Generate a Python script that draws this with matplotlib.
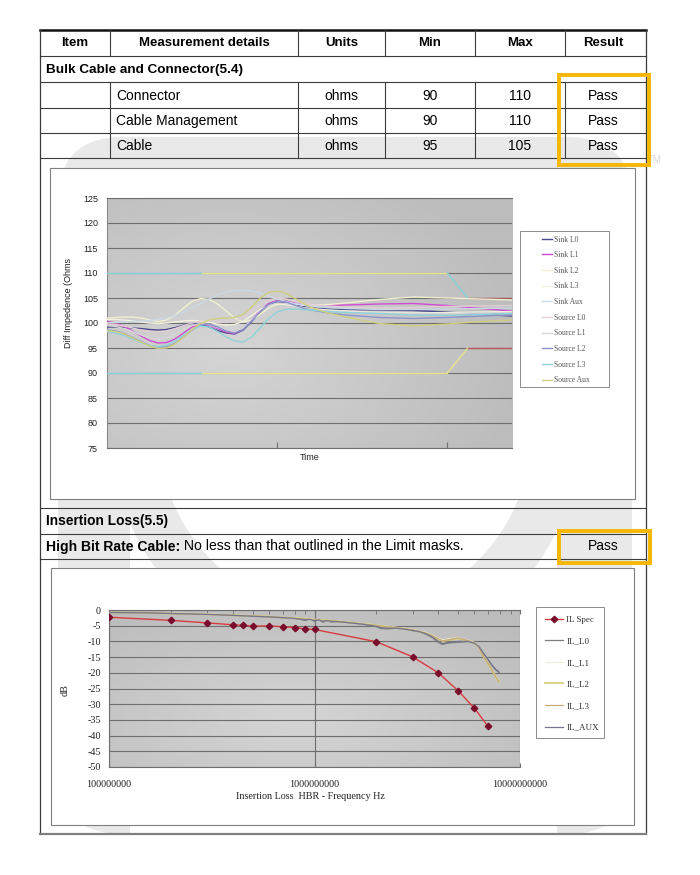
"""Cable test report page: impedance table + two Excel-style charts."""

import numpy as np
import matplotlib
matplotlib.use("Agg")
import matplotlib.pyplot as plt
from matplotlib.patches import Rectangle, FancyBboxPatch, Wedge

plt.rcParams['font.family'] = ['Liberation Sans', 'DejaVu Sans']
plt.rcParams['axes.unicode_minus'] = False
SERIF = ['Liberation Serif', 'DejaVu Serif']

W, H = 700, 875

# ---------------- table content ----------------
header = ['Item', 'Measurement details', 'Units', 'Min', 'Max', 'Result']
details = ['Connector', 'Cable Management', 'Cable']
units = ['ohms', 'ohms', 'ohms']
mins = ['90', '90', '95']
maxs = ['110', '110', '105']
results = ['Pass', 'Pass', 'Pass']

# ---------------- impedance chart data ----------------
time = [0.00, 0.05, 0.10, 0.15, 0.20, 0.25, 0.30, 0.35, 0.40, 0.45, 0.50,
        0.55, 0.60, 0.65, 0.70, 0.75, 0.80, 0.85, 0.90, 0.95, 1.00, 1.05,
        1.10, 1.15, 1.20, 1.30, 1.40, 1.60, 1.80, 2.00, 2.20, 2.38]
sink_l0 = [99.2, 99.2, 99.1, 99.0, 98.9, 98.7, 98.6, 98.7, 99.1, 99.6, 99.9,
           99.7, 99.2, 98.5, 98.0, 97.8, 98.6, 100.3, 102.2, 103.6, 104.2, 104.1,
           103.7, 103.3, 103.0, 102.8, 102.7, 102.6, 102.5, 102.2, 101.7, 101.4]
sink_l1 = [100.3, 100.0, 99.3, 98.4, 97.4, 96.5, 96.0, 96.1, 96.8, 98.0, 99.2,
           99.8, 99.6, 98.9, 98.2, 97.9, 98.8, 100.6, 102.5, 103.9, 104.5, 104.4,
           104.0, 103.6, 103.4, 103.5, 103.6, 103.8, 103.9, 103.5, 102.9, 102.4]
sink_l2 = [101.0, 101.1, 101.2, 101.2, 101.0, 100.6, 100.3, 100.6, 101.6, 103.0, 104.3,
           104.9, 104.7, 103.8, 102.4, 101.0, 100.2, 100.6, 101.8, 103.0, 103.7, 103.9,
           103.8, 103.6, 103.5, 103.7, 104.0, 104.7, 105.2, 105.0, 104.8, 104.6]
sink_l3 = [100.7, 100.7, 100.6, 100.4, 100.2, 100.0, 99.9, 100.0, 100.2, 100.4, 100.5,
           100.4, 100.1, 99.8, 99.6, 99.7, 100.3, 101.5, 102.7, 103.5, 103.8, 103.7,
           103.4, 103.1, 102.9, 102.6, 102.4, 102.1, 102.0, 102.1, 102.2, 102.3]
sink_aux = [100.0, 100.1, 100.2, 100.3, 100.4, 100.5, 100.7, 101.0, 101.5, 102.2, 103.0,
            103.9, 104.8, 105.6, 106.2, 106.5, 106.6, 106.4, 106.0, 105.4, 104.8, 104.3,
            103.9, 103.6, 103.4, 103.1, 102.9, 102.7, 102.7, 102.8, 102.9, 103.0]
source_l0 = [99.8, 99.7, 99.4, 99.0, 98.6, 98.3, 98.2, 98.4, 98.9, 99.5, 100.0,
             100.4, 100.5, 100.3, 100.1, 100.3, 101.1, 102.4, 103.7, 104.6, 105.0, 104.8,
             104.4, 104.0, 103.7, 103.4, 103.2, 103.0, 103.1, 103.3, 103.4, 103.5]
source_l1 = [99.5, 99.3, 98.9, 98.3, 97.6, 97.0, 96.8, 97.0, 97.7, 98.7, 99.5,
             99.9, 99.7, 99.1, 98.5, 98.3, 99.0, 100.6, 102.3, 103.5, 104.0, 103.9,
             103.5, 103.1, 102.8, 102.4, 102.2, 102.0, 101.9, 101.9, 102.0, 102.1]
source_l2 = [98.6, 98.4, 97.9, 97.1, 96.3, 95.5, 95.1, 95.2, 95.9, 97.2, 98.6,
             99.6, 99.8, 99.2, 98.4, 98.0, 98.7, 100.4, 102.3, 103.7, 104.4, 104.2,
             103.6, 103.0, 102.6, 102.0, 101.6, 101.1, 100.9, 101.1, 101.4, 101.6]
source_l3 = [98.3, 98.0, 97.5, 96.8, 96.1, 95.5, 95.3, 95.6, 96.4, 97.6, 98.7,
             99.4, 99.2, 98.3, 97.2, 96.4, 96.2, 97.2, 99.0, 100.9, 102.2, 102.7,
             102.8, 102.7, 102.6, 102.3, 102.1, 101.9, 101.6, 101.5, 101.7, 101.9]
source_aux = [98.5, 98.3, 97.8, 97.0, 96.2, 95.4, 94.9, 95.0, 95.8, 97.2, 98.7,
              99.9, 100.6, 100.9, 101.0, 101.1, 101.7, 103.2, 105.0, 106.1, 106.4, 106.0,
              105.0, 104.0, 103.1, 102.0, 101.2, 99.9, 99.4, 99.8, 100.3, 100.6]

imp_labels = ['Sink L0', 'Sink L1', 'Sink L2', 'Sink L3', 'Sink Aux',
              'Source L0', 'Source L1', 'Source L2', 'Source L3', 'Source Aux']
imp_series = [sink_l0, sink_l1, sink_l2, sink_l3, sink_aux,
              source_l0, source_l1, source_l2, source_l3, source_aux]
imp_colors = ['#4A4A8E', '#D24CD2', '#F1EFCF', '#F3F2DE', '#C9D9E6',
              '#E2CFD6', '#D6D6D6', '#8C93CC', '#8ED2DA', '#CFCF7E']

# limit mask (upper / lower)
mask_time = [0.0, 0.56, 2.0, 2.12, 2.38]
mask_upper = [110, 110, 110, 105, 105]
mask_lower = [90, 90, 90, 95, 95]
upper_seg_colors = ['#84D3DB', '#E6E48E', '#84D3DB', '#A45A5A']
lower_seg_colors = ['#84D3DB', '#E6E48E', '#E6E48E', '#B45C5C']

# ---------------- insertion loss data ----------------
spec_freq = [1e8, 2e8, 3e8, 4e8, 4.5e8, 5e8, 6e8, 7e8, 8e8, 9e8, 1e9,
             2e9, 3e9, 4e9, 5e9, 6e9, 7e9]
spec_db = [-2.3, -3.3, -4.1, -4.7, -4.9, -5.1, -5.1, -5.3, -5.6, -6.0, -6.2,
           -10.1, -14.9, -20.0, -25.7, -31.3, -37.1]

il_freq = [1e8, 1.5e8, 2e8, 3e8, 4e8, 5e8, 6e8, 7e8, 8e8, 9e8, 9.5e8, 1e9,
           1.05e9, 1.1e9, 1.15e9, 1.2e9, 1.3e9, 1.5e9, 1.75e9, 2e9, 2.1e9,
           2.25e9, 2.5e9, 2.75e9, 3e9, 3.25e9, 3.5e9, 3.75e9, 4e9, 4.2e9,
           4.4e9, 4.7e9, 5e9, 5.3e9, 5.6e9, 6e9, 6.3e9, 6.6e9, 7e9, 7.3e9,
           7.6e9, 7.9e9]
il_l0 = [-0.8, -0.9, -1.1, -1.4, -1.7, -1.9, -2.2, -2.5, -2.6, -3.3, -2.8, -3.6,
         -3.0, -3.9, -3.2, -3.8, -3.7, -4.1, -4.6, -5.3, -5.9,
         -6.0, -5.8, -6.0, -6.6, -7.0, -7.8, -8.8, -10.3, -11.0,
         -10.6, -10.4, -10.3, -10.2, -10.0, -10.5, -11.5, -13.5, -15.8, -17.5,
         -18.8, -19.7]
il_l1 = [-0.8, -0.9, -1.0, -1.3, -1.6, -1.9, -2.1, -2.3, -2.6, -2.8, -2.9, -3.0,
         -3.1, -3.2, -3.3, -3.4, -3.5, -3.9, -4.4, -4.8, -5.0,
         -5.2, -5.5, -5.8, -6.2, -6.7, -7.2, -8.0, -9.0, -9.5,
         -9.3, -9.0, -8.8, -9.2, -9.7, -10.3, -11.6, -14.2, -16.8, -18.8,
         -20.8, -22.5]
il_l2 = [-0.8, -0.9, -1.1, -1.4, -1.7, -1.9, -2.1, -2.4, -2.6, -2.8, -3.0, -3.1,
         -3.2, -3.3, -3.3, -3.4, -3.6, -4.0, -4.5, -4.9, -5.1,
         -5.3, -5.7, -6.0, -6.4, -6.9, -7.5, -8.3, -9.3, -9.9,
         -9.7, -9.4, -9.1, -9.5, -9.9, -10.5, -11.9, -14.6, -17.2, -19.2,
         -21.2, -22.9]
il_l3 = [-0.8, -0.9, -1.1, -1.4, -1.7, -1.9, -2.1, -2.4, -2.7, -2.9, -3.0, -3.1,
         -3.2, -3.3, -3.4, -3.5, -3.6, -4.0, -4.5, -4.9, -5.1,
         -5.3, -5.6, -5.9, -6.3, -6.8, -7.4, -8.2, -9.2, -9.8,
         -9.6, -9.2, -8.9, -9.3, -9.8, -10.4, -11.8, -14.5, -17.0, -19.0,
         -21.0, -22.8]
il_aux = [-0.8, -0.9, -1.1, -1.4, -1.7, -2.0, -2.2, -2.4, -2.7, -3.1, -3.0, -3.4,
          -3.2, -3.6, -3.4, -3.6, -3.7, -4.1, -4.6, -5.2, -5.6,
          -5.8, -5.8, -6.1, -6.5, -6.9, -7.6, -8.6, -10.0, -10.7,
          -10.4, -10.2, -10.0, -10.0, -10.0, -10.6, -11.6, -13.6, -15.9, -17.7,
          -19.0, -19.9]

il_labels = ['IL_L0', 'IL_L1', 'IL_L2', 'IL_L3', 'IL_AUX']
il_series = [il_l0, il_l1, il_l2, il_l3, il_aux]
il_colors = ['#7E7E7E', '#EEEEDC', '#D2D27E', '#C9A878', '#75758C']
il_widths = [0.9, 0.9, 1.3, 0.9, 0.9]


def fig_rect(x0, y0, x1, y1):
    """pixel box (origin top-left) -> figure fraction [l, b, w, h]"""
    return [x0 / W, 1 - y1 / H, (x1 - x0) / W, (y1 - y0) / H]


def shaded_bg(rect, cx, cy):
    # Excel style gradient fill for the plot area
    bg = fig.add_axes(rect, zorder=1)
    yy, xx = np.mgrid[0:1:200j, 0:1:300j]
    d = np.clip(np.hypot((xx - cx) / 0.75, (yy - cy) / 0.85), 0, 1)
    v = (213 - 25 * d) / 255
    bg.imshow(np.dstack([v, v, v]), extent=(0, 1, 0, 1), origin='lower',
              aspect='auto')
    bg.axis('off')


fig = plt.figure(figsize=(7, 8.75), dpi=100)
page = fig.add_axes([0, 0, 1, 1], zorder=0)
page.set_xlim(0, W)
page.set_ylim(H, 0)
page.axis('off')

# ---------------- faint watermark behind the page ----------------
wm = '#E9E9E9'
page.add_patch(FancyBboxPatch((58, 137), 574, 697, boxstyle='round,pad=0,rounding_size=65',
                              facecolor=wm, edgecolor='none'))
page.add_patch(FancyBboxPatch((130, 203), 427, 700, boxstyle='round,pad=0,rounding_size=50',
                              facecolor='white', edgecolor='none'))
page.add_patch(Wedge((345, 429), 235, 0, 180, width=48, facecolor=wm, edgecolor='none'))
page.text(655, 160, 'TM', fontsize=7, color='#D9D9D9', ha='center', va='center')

# ---------------- table grid ----------------
lc = '#3C3C3C'
page.plot([40, 646], [30, 30], color='#111111', lw=1.8)
for y in [56, 82, 108, 133, 158, 508, 534, 559]:
    page.plot([40, 646], [y, y], color=lc, lw=0.8)
page.plot([40, 40], [30, 834], color=lc, lw=0.9)
page.plot([646, 646], [30, 834], color=lc, lw=0.9)
page.plot([40, 646], [834, 834], color='#808080', lw=1.6)
col_x = [110, 298, 385, 475, 565]
for x in col_x:
    page.plot([x, x], [30, 56], color=lc, lw=0.8)
    page.plot([x, x], [82, 158], color=lc, lw=0.8)

col_cx = [75, 204, 341.5, 430, 520, 603]
for cx, txt in zip(col_cx, header):
    page.text(cx, 43.5, txt, fontsize=9.5, fontweight='bold', ha='center', va='center')
page.text(46, 70, 'Bulk Cable and Connector(5.4)', fontsize=9.7, fontweight='bold', va='center')
for i, ry in enumerate([95.5, 121, 146.5]):
    page.text(116, ry, details[i], fontsize=10, va='center')
    page.text(col_cx[2], ry, units[i], fontsize=10, ha='center', va='center')
    page.text(col_cx[3], ry, mins[i], fontsize=10, ha='center', va='center')
    page.text(col_cx[4], ry, maxs[i], fontsize=10, ha='center', va='center')
    page.text(col_cx[5], ry, results[i], fontsize=10, ha='center', va='center')

page.text(46, 521, 'Insertion Loss(5.5)', fontsize=9.9, fontweight='bold', va='center')
hb = page.text(46, 550.5, 'High Bit Rate Cable:', fontsize=10.1, fontweight='bold', va='baseline')
page.text(col_cx[5], 546.5, 'Pass', fontsize=10, ha='center', va='center')
fig.canvas.draw()
bb = hb.get_window_extent()
x_end = page.transData.inverted().transform((bb.x1, bb.y0))[0]
page.text(x_end, 550.5, ' No less than that outlined in the Limit masks.', fontsize=10.1,
          va='baseline')

# chart frames (opaque, above watermark)
page.add_patch(Rectangle((50, 168), 585, 331, facecolor='white', edgecolor='#7F7F7F', lw=0.8))
page.add_patch(Rectangle((51, 568), 583, 257, facecolor='white', edgecolor='#7F7F7F', lw=0.8))
# legend frames
page.add_patch(Rectangle((520, 231), 89, 156, facecolor='white', edgecolor='#8A8A8A', lw=0.7))
page.add_patch(Rectangle((536, 607), 68, 131, facecolor='white', edgecolor='#8A8A8A', lw=0.7))

# highlight boxes around results
orange = '#F5B700'
page.add_patch(Rectangle((558.5, 74.5), 90.5, 90.5, fill=False, edgecolor=orange, lw=2.8, zorder=5))
page.add_patch(Rectangle((558.5, 530.5), 91, 32.5, fill=False, edgecolor=orange, lw=2.8, zorder=5))

grid_c = '#6E6E6E'

# ---------------- chart 1: differential impedance ----------------
r1 = fig_rect(107, 198, 512, 448)
shaded_bg(r1, 0.3, 0.4)
ax1 = fig.add_axes(r1, zorder=2)
ax1.set_facecolor('none')

for i in range(len(mask_time) - 1):
    ax1.plot(mask_time[i:i + 2], mask_upper[i:i + 2], color=upper_seg_colors[i], lw=1.0, zorder=3)
    ax1.plot(mask_time[i:i + 2], mask_lower[i:i + 2], color=lower_seg_colors[i], lw=1.0, zorder=3)

draw_order = [2, 3, 4, 5, 6, 9, 8, 7, 0, 1]
for k in draw_order:
    ax1.plot(time, imp_series[k], color=imp_colors[k], lw=1.0, label=imp_labels[k], zorder=4 + k)

ax1.set_xlim(0, 2.38)
ax1.set_ylim(75, 125)
ax1.set_yticks(np.arange(75, 126, 5))
ax1.set_xticks([1, 2])
ax1.set_xticklabels([])
ax1.tick_params(axis='y', length=0, pad=6.5, labelsize=6.5, labelcolor='#222222')
ax1.tick_params(axis='x', direction='in', length=4, color='#707070')
ax1.grid(axis='y', color=grid_c, lw=0.8)
ax1.set_axisbelow(True)
for s in ['top', 'bottom']:
    ax1.spines[s].set_color(grid_c)
    ax1.spines[s].set_linewidth(0.8)
ax1.spines['left'].set_color('#8A8A8A')
ax1.spines['right'].set_visible(False)
ax1.text(-0.094, 0.58, 'Diff Impedence (Ohms', transform=ax1.transAxes, rotation=90,
         ha='center', va='center', fontsize=6.5, color='#222222')
ax1.text(0.5, -0.036, 'Time', transform=ax1.transAxes, ha='center', va='center',
         fontsize=6.5, color='#222222')

h1, l1 = ax1.get_legend_handles_labels()
order1 = [l1.index(lab) for lab in imp_labels]
leg1 = ax1.legend([h1[i] for i in order1], imp_labels, loc='upper left',
                  bbox_to_anchor=(542 / W, 1 - 235.5 / H), bbox_transform=fig.transFigure,
                  frameon=False, borderpad=0, borderaxespad=0, handlelength=1.3,
                  handletextpad=0.3, labelspacing=1.0, prop={'family': SERIF, 'size': 5.5})
for t in leg1.get_texts():
    t.set_color('#555555')

# ---------------- chart 2: insertion loss ----------------
r2 = fig_rect(109, 610, 520, 767)
shaded_bg(r2, 0.45, 0.3)
ax2 = fig.add_axes(r2, zorder=2)
ax2.set_facecolor('none')

ax2.plot(spec_freq, spec_db, color='#D93A40', lw=1.0, marker='D', markersize=3.3,
         markerfacecolor='#7A0C2C', markeredgecolor='#7A0C2C', label='IL Spec', zorder=10)
for k in range(len(il_series)):
    ax2.plot(il_freq, il_series[k], color=il_colors[k], lw=il_widths[k], label=il_labels[k],
             zorder=5 + k)

ax2.set_xscale('log')
ax2.set_xlim(1e8, 1e10)
ax2.set_ylim(-50, 0)
ax2.set_yticks(np.arange(-50, 1, 5))
ax2.set_xticks([1e8, 1e9, 1e10])
ax2.set_xticklabels(['100000000', '1000000000', '10000000000'])
ax2.tick_params(axis='x', which='major', direction='in', length=3, top=True, bottom=True,
                pad=9.4, labelsize=7.3, color='#707070')
ax2.tick_params(axis='x', which='minor', direction='in', length=3, top=True, bottom=False,
                color='#707070')
ax2.tick_params(axis='y', length=0, pad=5.8, labelsize=7.3)
for lab in ax2.get_xticklabels() + ax2.get_yticklabels():
    lab.set_family(SERIF)
    lab.set_color('#222222')
ax2.grid(axis='y', color=grid_c, lw=0.8)
ax2.grid(axis='x', which='major', color=grid_c, lw=0.8)
ax2.set_axisbelow(True)
for s in ['top', 'bottom', 'left']:
    ax2.spines[s].set_color(grid_c)
    ax2.spines[s].set_linewidth(0.8)
ax2.spines['right'].set_visible(False)
ax2.text(-0.107, 0.49, 'dB', transform=ax2.transAxes, rotation=90, ha='center', va='center',
         fontsize=7.3, family=SERIF, color='#222222')
ax2.text(0.49, -0.185, 'Insertion Loss  HBR - Frequency Hz', transform=ax2.transAxes,
         ha='center', va='center', fontsize=7.3, family=SERIF, color='#222222')

leg2 = ax2.legend(loc='upper left', bbox_to_anchor=(545 / W, 1 - 615.5 / H),
                  bbox_transform=fig.transFigure, frameon=False, borderpad=0,
                  borderaxespad=0, handlelength=2.0, handletextpad=0.35, labelspacing=1.47,
                  prop={'family': SERIF, 'size': 6.5})
for t in leg2.get_texts():
    t.set_color('#333333')

fig.savefig('out.png', dpi=100)
